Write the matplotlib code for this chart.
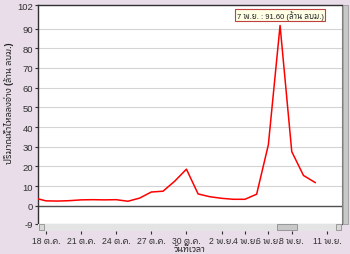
import datetime as dt
import matplotlib
matplotlib.use("Agg")
import matplotlib.pyplot as plt
import matplotlib.font_manager as fm
from matplotlib import ft2font
from matplotlib.patches import Rectangle

# daily inflow, million m3
dates = ["2010-10-17", "2010-10-18", "2010-10-19", "2010-10-20", "2010-10-21",
         "2010-10-22", "2010-10-23", "2010-10-24", "2010-10-25", "2010-10-26",
         "2010-10-27", "2010-10-28", "2010-10-29", "2010-10-30", "2010-10-31",
         "2010-11-01", "2010-11-02", "2010-11-03", "2010-11-04", "2010-11-05",
         "2010-11-06", "2010-11-07", "2010-11-08", "2010-11-09", "2010-11-10"]
inflow = [4.0, 2.5, 2.4, 2.6, 3.0, 3.1, 3.0, 3.1, 2.3, 3.9,
          7.0, 7.4, 12.5, 18.6, 6.0, 4.6, 3.8, 3.3, 3.3, 5.9,
          31.0, 91.6, 27.5, 15.4, 11.8]

tick_dates = ["2010-10-18", "2010-10-21", "2010-10-24", "2010-10-27", "2010-10-30",
              "2010-11-02", "2010-11-04", "2010-11-06", "2010-11-08", "2010-11-11"]
tick_labels = ["18 ต.ค.", "21 ต.ค.", "24 ต.ค.", "27 ต.ค.", "30 ต.ค.",
               "2 พ.ย.", "4 พ.ย.", "6 พ.ย.", "8 พ.ย.", "11 พ.ย."]
y_ticks = [102, 90, 80, 70, 60, 50, 40, 30, 20, 10, 0, -9]
peak_label = "7 พ.ย. : 91.60 (ล้าน ลบม.)"

# find a font with thai glyphs
thai = None
for f in fm.fontManager.ttflist:
    try:
        if 0x0E01 in ft2font.FT2Font(f.fname).get_charmap():
            if thai is None or ("Sans" in f.name and "Mono" not in f.name):
                thai = f.name
    except Exception:
        pass
fams = ["Liberation Sans", "DejaVu Sans"]
if thai:
    fams.insert(1, thai)
plt.rcParams["font.family"] = fams

x = [dt.datetime.strptime(d, "%Y-%m-%d") for d in dates]
xt = [dt.datetime.strptime(d, "%Y-%m-%d") for d in tick_dates]
bg = "#e8dde8"

fig = plt.figure(figsize=(3.5, 2.55), dpi=100, facecolor=bg)
L, R = 38 / 350, 342 / 350
ax = fig.add_axes([L, 1 - 224.5 / 255, R - L, (224.5 - 6) / 255])
ax.set_facecolor("white")

for v in y_ticks:
    if v == 0:
        ax.axhline(v, color="#505050", lw=1.0, zorder=1)
    elif v not in (102, -9):
        ax.axhline(v, color="#d4d4d4", lw=0.8, zorder=0)

ax.plot(x, inflow, color="#ff0000", lw=1.1, zorder=3)

x0 = dt.datetime(2010, 10, 17, 7, 40)
x1 = dt.datetime(2010, 11, 12, 7, 0)
ax.set_xlim(x0, x1)
ax.set_ylim(-9, 102)
ax.set_yticks(y_ticks)
ax.set_yticklabels([str(v) for v in y_ticks])
ax.tick_params(axis="y", length=2.5, width=0.8, pad=1, labelsize=6.8, colors="#303030")
ax.tick_params(axis="x", bottom=False, labelbottom=False)
for s in ["top", "left"]:
    ax.spines[s].set_color("#303030")
    ax.spines[s].set_linewidth(1.0)
ax.spines["right"].set_color("#808080")
ax.spines["bottom"].set_color("#505050")
ax.spines["bottom"].set_linewidth(0.8)

ax.annotate(peak_label, xy=(x[21], 91.6), xytext=(0, 7.5), textcoords="offset points",
            ha="center", va="center", fontsize=5.5, color="#202020",
            bbox=dict(boxstyle="square,pad=0.15", fc="#ffffe6", ec="#c04040", lw=0.8),
            zorder=5)

# horizontal scroll strip carrying the date ticks
sb = fig.add_axes([L, 1 - 232 / 255, R - L, 7 / 255], sharex=ax)
sb.set_facecolor("#e4e4e4")
sb.set_ylim(0, 1)
sb.set_yticks([])
for s in sb.spines.values():
    s.set_visible(False)
sb.add_patch(Rectangle((0.003, 0.1), 0.018, 0.85, transform=sb.transAxes,
                       fc="#d8d8d8", ec="#808080", lw=0.5))
sb.add_patch(Rectangle((0.979, 0.1), 0.018, 0.85, transform=sb.transAxes,
                       fc="#d8d8d8", ec="#808080", lw=0.5))
sb.add_patch(Rectangle(((277 - 38) / 304, 0.1), 20 / 304, 0.85, transform=sb.transAxes,
                       fc="#c8c8c8", ec="#808080", lw=0.5))
sb.set_xticks(xt)
sb.set_xticklabels(tick_labels)
sb.tick_params(axis="x", length=2.5, width=0.8, pad=1, labelsize=6.2, colors="#303030")

# vertical scroll strip on the right
fig.add_artist(Rectangle((343 / 350, 1 - 224.5 / 255), 5 / 350, 218.5 / 255,
                         transform=fig.transFigure, fc="#c8c8c8", ec="#909090", lw=0.5))

fig.text(0.5 * (L + R), 1 - 249.5 / 255, "วันที่เวลา", ha="center", va="center",
         fontsize=6.2, fontweight="bold", color="#202020")
fig.text(0.026, 1 - 103 / 255, "ปริมาณน้ำไหลลงอ่าง (ล้าน ลบม.)", rotation=90,
         ha="center", va="center", fontsize=6.3, fontweight="bold", color="#202020")

fig.savefig("out.png", dpi=100, facecolor=bg)
